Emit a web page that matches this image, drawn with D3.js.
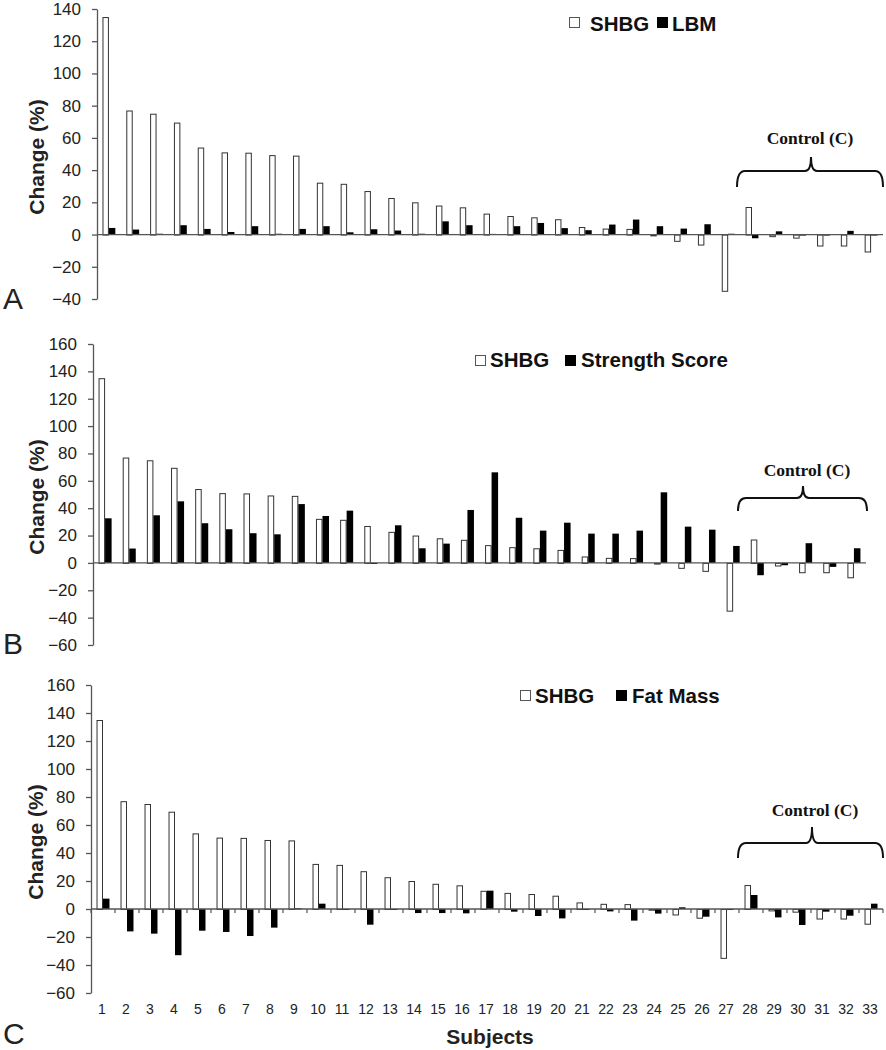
<!DOCTYPE html>
<html><head><meta charset="utf-8">
<script src="https://cdn.jsdelivr.net/npm/d3@7"></script>
<style>body{margin:0;background:#fff}svg{display:block}</style>
</head><body>
<script>
const subjects = d3.range(1, 34).map(String);
const subjectsB = d3.range(1, 33).map(String);
const shbg = [135, 77, 75, 69.5, 54, 51, 50.8, 49.3, 49, 32.2, 31.5, 27, 22.7, 20, 18,
  16.9, 13, 11.5, 10.7, 9.5, 4.7, 3.7, 3.5, -0.5, -3.9, -6.2, -34.9, 17.1, -1, -1.9, -6.8, -6.8, -10.5];
const shbgB = [135, 77, 75, 69.5, 54, 51, 50.8, 49.3, 49, 32.2, 31.5, 27, 22.7, 20, 18,
  16.9, 13, 11.5, 10.7, 9.5, 4.7, 3.7, 3.5, -0.5, -3.6, -5.8, -34.9, 17.1, -1.9, -6.8, -6.8, -10.5];
const lbm = [4.1, 3.1, 0.5, 5.8, 3.5, 1.6, 5.2, 0.5, 3.5, 5.2, 1.4, 3.3, 2.5, 0.5, 8.2,
  5.8, 0.4, 5.2, 7.2, 4, 2.7, 6.2, 9.3, 5.2, 3.7, 6.4, 0.5, -2.3, 2, -0.3, -0.5, 2.3, -0.6];
const strength = [32.6, 10.5, 34.8, 45, 29, 24.6, 21.7, 20.9, 43, 34.3, 38.2, 0, 27.5, 10.7, 14.1,
  38.7, 66.2, 33, 23.6, 29.4, 21.4, 21.4, 23.6, 51.6, 26.5, 24.3, 12.4, -9, -1.7, 14.4, -2.9, 10.7];
const fatMass = [7.4, -16, -17.6, -33, -15.5, -16.4, -19.3, -13.3, 0.5, 3.8, -0.3, -11.2, 0, -2.9, -2.9,
  -3.1, 13.1, -1.9, -5, -6.7, 0, -1.7, -8.3, -3.3, 1.2, -5.5, -0.5, 10, -6, -11.4, -1.9, -4.8, 3.8];
const ticksA = [-40, -20, 0, 20, 40, 60, 80, 100, 120, 140];
const ticksBC = [-60, -40, -20, 0, 20, 40, 60, 80, 100, 120, 140, 160];
const legendA = ["SHBG", "LBM"];
const legendB = ["SHBG", "Strength Score"];
const legendC = ["SHBG", "Fat Mass"];
const controlLabel = "Control (C)";

const svg = d3.select("body").append("svg").attr("width", 886).attr("height", 1050);
const AX = "#555";
const SANS = "Arial, 'Liberation Sans', sans-serif";

function panel(cfg) {
  const g = svg.append("g");
  const cats = cfg.cats;
  const x = d3.scaleBand().domain(cats).range([cfg.left, cfg.right]).paddingInner(0).paddingOuter(0);
  const y = d3.scaleLinear().domain([cfg.ticks[0], cfg.ticks[cfg.ticks.length - 1]]).range([cfg.bottom, cfg.top]);
  const bw = x.bandwidth() * 0.27;
  const y0 = y(0);
  g.selectAll("rect.s").data(cfg.a).join("rect")
    .attr("x", (d, i) => x(cats[i]) + x.bandwidth() / 2 - bw + 0.5)
    .attr("width", bw - 1)
    .attr("y", d => Math.min(y(d), y0) + 0.5)
    .attr("height", d => Math.max(0.5, Math.abs(y(d) - y0)))
    .attr("fill", "#fff").attr("stroke", "#333").attr("stroke-width", 1);
  g.selectAll("rect.b").data(cfg.b).join("rect")
    .attr("x", (d, i) => x(cats[i]) + x.bandwidth() / 2)
    .attr("width", bw)
    .attr("y", d => Math.min(y(d), y0))
    .attr("height", d => Math.max(1, Math.abs(y(d) - y0)))
    .attr("fill", "#000");
  const ya = g.append("g").attr("transform", `translate(${cfg.left},0)`)
    .call(d3.axisLeft(y).tickValues(cfg.ticks).tickSize(5).tickSizeOuter(0).tickPadding(11));
  ya.select(".domain").attr("stroke", AX).attr("stroke-width", 1.3);
  ya.selectAll(".tick line").attr("stroke", AX).attr("stroke-width", 1.3);
  ya.selectAll(".tick text").attr("font-family", SANS).attr("font-size", 17).attr("fill", "#222");
  g.append("line").attr("x1", cfg.left).attr("x2", cfg.right).attr("y1", y0).attr("y2", y0)
    .attr("stroke", AX).attr("stroke-width", 1.3);
  if (cfg.xticks) {
    g.selectAll("line.xt").data(d3.range(0, cats.length + 1)).join("line")
      .attr("x1", i => cfg.left + i * x.step()).attr("x2", i => cfg.left + i * x.step())
      .attr("y1", y0).attr("y2", y0 + 4).attr("stroke", AX).attr("stroke-width", 1.2);
    g.selectAll("text.xl").data(cats).join("text")
      .attr("x", d => x(d) + x.bandwidth() / 2 - 1).attr("y", 1014)
      .attr("text-anchor", "middle").attr("font-family", SANS)
      .attr("font-size", 14).attr("fill", "#222").text(d => d);
    g.append("text").attr("x", 490).attr("y", 1044).attr("text-anchor", "middle")
      .attr("font-family", SANS).attr("font-weight", "bold")
      .attr("font-size", 21).attr("fill", "#222").text("Subjects");
  }
  g.append("text").attr("transform", `translate(${cfg.ylabX},${cfg.ylabY}) rotate(-90)`)
    .attr("text-anchor", "middle").attr("font-family", SANS)
    .attr("font-weight", "bold").attr("font-size", 21).attr("fill", "#222").text("Change (%)");
  g.append("text").attr("x", 3).attr("y", cfg.letterY).attr("font-family", SANS)
    .attr("font-size", 30).attr("fill", "#222").text(cfg.letter);
  const L = cfg.legend;
  g.append("rect").attr("x", L.s1 + 0.5).attr("y", L.sy + 0.5).attr("width", 10).attr("height", 10)
    .attr("fill", "#fff").attr("stroke", "#555");
  g.append("text").attr("x", L.t1).attr("y", L.base).attr("font-family", SANS)
    .attr("font-weight", "bold").attr("font-size", 20.5).attr("fill", "#111").text(L.names[0]);
  g.append("rect").attr("x", L.s2).attr("y", L.sy).attr("width", 11).attr("height", 11).attr("fill", "#000");
  g.append("text").attr("x", L.t2).attr("y", L.base).attr("font-family", SANS)
    .attr("font-weight", "bold").attr("font-size", 20.5).attr("fill", "#111").text(L.names[1]);
  const B = cfg.bracket;
  const path = `M${B.x1},${B.yEnd} Q${B.x1},${B.yH} ${B.x1 + 8},${B.yH} L${B.xc - 6},${B.yH} Q${B.xc},${B.yH} ${B.xc},${B.yTop} Q${B.xc},${B.yH} ${B.xc + 6},${B.yH} L${B.x2 - 8},${B.yH} Q${B.x2},${B.yH} ${B.x2},${B.yEnd}`;
  g.append("path").attr("d", path).attr("fill", "none").attr("stroke", "#111").attr("stroke-width", 2);
  g.append("text").attr("x", B.tx).attr("y", B.ty).attr("text-anchor", "middle")
    .attr("font-family", "'Liberation Serif', 'Times New Roman', serif").attr("font-weight", "bold")
    .attr("font-size", 17.5).attr("fill", "#111").text(controlLabel);
}

panel({ cats: subjects, a: shbg, b: lbm, ticks: ticksA, left: 97, right: 883, top: 9, bottom: 299,
  ylabX: 44, ylabY: 157, letter: "A", letterY: 309,
  legend: { names: legendA, s1: 569, t1: 590, s2: 657, t2: 672, sy: 17, base: 31 },
  bracket: { x1: 737, x2: 883, xc: 811, yH: 171, yEnd: 187, yTop: 157, tx: 810, ty: 144 } });
panel({ cats: subjectsB, a: shbgB, b: strength, ticks: ticksBC, left: 93, right: 866, top: 344, bottom: 645,
  ylabX: 44, ylabY: 497, letter: "B", letterY: 654,
  legend: { names: legendB, s1: 475, t1: 490, s2: 565, t2: 581, sy: 355, base: 367 },
  bracket: { x1: 738, x2: 867, xc: 803, yH: 498, yEnd: 511, yTop: 486, tx: 807, ty: 476 } });
panel({ cats: subjects, a: shbg, b: fatMass, ticks: ticksBC, left: 91, right: 883, top: 685, bottom: 993,
  ylabX: 43, ylabY: 842, letter: "C", letterY: 1044, xticks: true,
  legend: { names: legendC, s1: 520, t1: 535, s2: 616, t2: 632, sy: 690, base: 703 },
  bracket: { x1: 738, x2: 883, xc: 812, yH: 843, yEnd: 858, yTop: 827, tx: 815, ty: 816 } });
</script>
</body></html>
